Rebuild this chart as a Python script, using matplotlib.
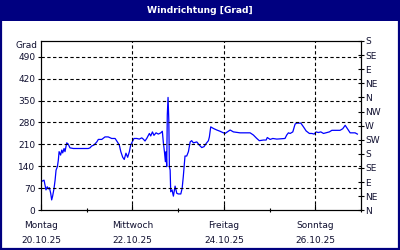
import matplotlib
matplotlib.use("Agg")
import matplotlib.pyplot as plt
from matplotlib.patches import Rectangle

plt.rcParams["font.family"] = "DejaVu Sans"

# Stunden seit Montag 20.10.25 00:00
hours = [0, 1.6, 2.6, 3.3, 3.8, 4.4, 5.1, 5.6, 6.1, 6.8, 7.4, 7.9, 8.6, 9.1, 9.5,
         10.3, 10.9, 11.4, 12.1, 12.6, 13.5, 14.3, 15.2, 17.0, 24.8, 25.7, 26.6,
         27.8, 29.3, 30.1, 31.9, 33.6, 35.3, 37.1, 38.9, 40.1, 41.1, 41.9, 42.9,
         43.7, 44.6, 45.5, 46.4, 47.1, 48.2, 48.8, 50.3, 51.6, 52.9, 53.7, 54.6,
         55.5, 56.9, 57.6, 58.5, 59.3, 60.4, 61.6, 62.9, 63.7, 64.2, 64.8, 65.3,
         65.7, 66.0, 66.3, 66.7, 67.1, 67.4, 67.8, 68.1, 68.8, 69.5, 70.4, 71.3,
         72.1, 73.4, 74.1, 74.7, 75.6, 76.5, 77.4, 78.3, 79.1, 80.0, 81.8, 83.1,
         84.4, 85.6, 86.7, 87.9, 88.4, 89.1, 90.5, 92.3, 94.0, 95.4, 96.6, 97.8,
         99.3, 101.0, 104.5, 109.8, 111.5, 113.3, 114.6, 116.8, 118.2, 118.8,
         120.3, 121.7, 123.8, 128.1, 129.0, 129.9, 130.8, 132.2, 133.4, 134.3,
         136.4, 137.8, 139.2, 140.9, 142.2, 143.4, 144.4, 145.6, 146.9, 148.3,
         150.1, 151.4, 152.7, 157.0, 158.4, 159.7, 160.9, 162.3, 164.9, 166.1]
direction = [91, 96, 65, 75, 68, 72, 54, 33, 45, 68, 96, 128, 139, 160, 187,
             176, 192, 183, 197, 187, 215, 211, 199, 197, 197, 199, 205,
             208, 218, 226, 226, 234, 234, 229, 229, 218, 208, 187, 169,
             162, 182, 169, 187, 208, 222, 229, 229, 227, 231, 227, 221,
             229, 245, 237, 250, 239, 247, 243, 247, 252, 218, 187, 155,
             187, 139, 303, 360, 287, 139, 128, 59, 65, 45, 77, 54,
             52, 52, 70, 107, 173, 173, 187, 218, 222, 215, 218, 208,
             200, 203, 213, 222, 234, 266, 261, 256, 252, 248, 245, 250,
             256, 250, 247, 247, 240, 229, 222, 224, 224, 232,
             226, 229, 227, 229, 240, 247, 245, 250, 275, 278,
             278, 266, 253, 245, 245, 243, 250, 248, 250, 245,
             248, 250, 255, 255, 260, 271, 260, 247, 247, 243]

left_ticks = [0, 70, 140, 210, 280, 350, 420, 490]
right_ticks = [0, 45, 90, 135, 180, 225, 270, 315, 360, 405, 450, 495, 540]
right_labels = ["N", "NE", "E", "SE", "S", "SW", "W", "NW", "N", "NE", "E", "SE", "S"]
day_ticks = [0, 48, 96, 144]
day_labels = ["Montag\n20.10.25", "Mittwoch\n22.10.25", "Freitag\n24.10.25", "Sonntag\n26.10.25"]

navy = "#000080"
txt = "#101030"
dash = (0, (3, 2.2))

fig = plt.figure(figsize=(4, 2.5), dpi=100)
fig.patches.append(Rectangle((0, 0.918), 1, 0.082, transform=fig.transFigure,
                             facecolor=navy, edgecolor="none", zorder=0))
fig.patches.append(Rectangle((0.0025, 0.004), 0.995, 0.992, transform=fig.transFigure,
                             facecolor="none", edgecolor=navy, linewidth=1.6, zorder=5))
fig.text(0.5, 0.959, "Windrichtung [Grad]", color="white", fontsize=6.6, fontweight="bold",
         ha="center", va="center")

ax = fig.add_axes([0.1025, 0.159, 0.8, 0.677])
ax.plot(hours, direction, color="#0000ff", linewidth=0.9)
ax.set_xlim(0, 168)
ax.set_ylim(0, 540)

ax.set_yticks(left_ticks)
ax.set_yticklabels([str(t) for t in left_ticks], fontsize=6.5, color=txt)
ax.set_xticks(day_ticks)
ax.set_xticklabels(day_labels, fontsize=6.5, color=txt, linespacing=1.85)
ax.set_xticks([24, 72, 120, 168], minor=True)
ax.tick_params(axis="y", direction="out", length=2, width=0.8, pad=2)
ax.tick_params(axis="x", which="major", direction="in", length=4, width=0.8, pad=8)
ax.tick_params(axis="x", which="minor", direction="inout", length=3, width=0.8)

for t in left_ticks[1:]:
    ax.axhline(t, color="black", linestyle=dash, linewidth=0.8)
for t in day_ticks[1:]:
    ax.axvline(t, color="black", linestyle=dash, linewidth=0.8)

for s in ax.spines.values():
    s.set_linewidth(0.8)

ax2 = ax.twinx()
ax2.set_ylim(0, 540)
ax2.set_yticks(right_ticks)
ax2.set_yticklabels(right_labels, fontsize=6.5, color=txt)
ax2.tick_params(axis="y", direction="inout", length=4, width=0.8, pad=1)

fig.text(0.0925, 0.82, "Grad", fontsize=6.5, color=txt, ha="right", va="center")

fig.savefig("out.png", dpi=100)
